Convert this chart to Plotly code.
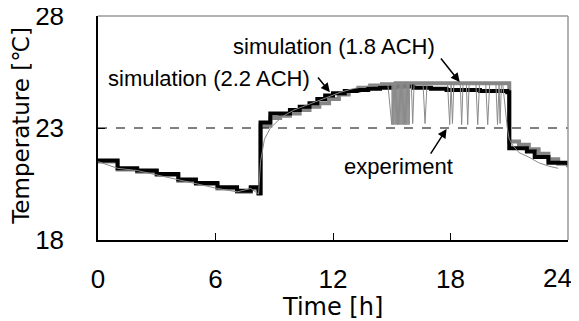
import plotly.graph_objects as go

# simulation (2.2 ACH) - black
sim22_t = [0, 1.0, 2.0, 3.0, 4.1, 5.0, 6.1, 7.1, 7.8, 8.2, 8.3, 8.8, 9.3, 9.8, 10.3, 10.8, 11.2, 11.6, 12.0, 12.6, 13.2, 13.8, 14.4, 15.2, 16.1, 17.0, 17.8, 18.6, 19.5, 20.2, 20.9, 21.0, 21.9, 22.3, 23.0, 24.0]
sim22_v = [21.55, 21.2, 21.1, 20.95, 20.7, 20.55, 20.35, 20.2, 20.35, 20.1, 23.25, 23.65, 23.65, 23.8, 23.95, 24.1, 24.3, 24.45, 24.55, 24.65, 24.7, 24.75, 24.8, 24.85, 24.8, 24.75, 24.7, 24.7, 24.65, 24.65, 24.6, 22.1, 21.95, 21.7, 21.45, 21.35]

# simulation (1.8 ACH) - gray
sim18_t = [0, 1.0, 2.0, 3.0, 4.1, 5.0, 6.1, 7.1, 7.8, 8.2, 8.3, 8.8, 9.3, 9.8, 10.3, 10.8, 11.3, 11.8, 12.3, 12.8, 13.3, 13.9, 14.5, 15.2, 16.0, 17.0, 18.0, 19.0, 20.0, 20.9, 21.0, 21.5, 22.0, 22.5, 23.0, 23.5, 24.0]
sim18_v = [21.5, 21.15, 21.05, 20.9, 20.65, 20.5, 20.3, 20.15, 20.3, 20.05, 23.1, 23.45, 23.55, 23.65, 23.8, 23.95, 24.1, 24.3, 24.5, 24.65, 24.8, 24.9, 24.95, 25.0, 25.0, 25.0, 25.0, 25.0, 25.0, 25.0, 22.4, 22.25, 22.05, 21.85, 21.6, 21.4, 21.25]

# experiment - thin gray
exp_t = [0, 1.0, 2.0, 3.0, 4.1, 5.0, 6.1, 7.1, 7.8, 8.2, 8.3, 8.5, 8.8, 9.4, 10.0, 10.6, 11.2, 11.8, 12.4, 13.0, 13.6, 14.2, 14.8,
         15.0, 15.02, 15.05, 15.08, 15.11, 15.14, 15.17, 15.2, 15.23, 15.26, 15.29, 15.32, 15.35, 15.38, 15.41, 15.44, 15.47, 15.5, 15.53, 15.56, 15.59, 15.62, 15.65, 15.68, 15.71, 15.74, 15.77, 15.8, 15.83, 15.86, 15.89, 15.92,
         16.0, 16.07, 16.14, 16.6, 16.7, 16.8, 17.85, 17.96, 18.03, 18.1, 18.17, 18.5, 18.57, 18.64, 18.81, 18.88, 18.95, 19.3, 19.39, 19.48, 19.8, 19.9, 20.0, 20.32, 20.4, 20.48, 20.53, 20.6, 20.67, 20.9, 21.0, 21.2, 21.5, 22.0, 22.5, 23.0, 23.5, 24.0]
exp_v = [21.5, 21.2, 21.1, 20.9, 20.7, 20.5, 20.3, 20.15, 20.3, 20.05, 21.5, 22.5, 23.0, 23.5, 23.8, 24.0, 24.2, 24.4, 24.6, 24.75, 24.85, 24.9, 24.95,
         23.15, 25.0, 23.15, 25.0, 23.15, 25.0, 23.15, 25.0, 23.15, 25.0, 23.15, 25.0, 23.15, 25.0, 23.15, 25.0, 23.15, 25.0, 23.15, 25.0, 23.15, 25.0, 23.15, 25.0, 23.15, 25.0, 23.15, 25.0, 23.15, 25.0, 23.15, 25.0,
         24.95, 23.2, 24.95, 24.95, 23.2, 24.95, 24.95, 23.15, 24.95, 23.2, 24.95, 24.95, 23.15, 24.95, 24.95, 23.15, 24.95, 24.95, 23.15, 24.95, 24.95, 23.15, 24.95, 24.95, 23.15, 24.95, 23.2, 24.95, 24.95, 23.0, 22.5, 22.2, 21.9, 21.7, 21.45, 21.3, 21.2]

x_ticks = [0, 6, 12, 18, 24]
x_ticktext = ["0", "6", "12", "18", ""]   # last label placed separately so it stays inside the page
last_tick_label = "24"
y_ticks = [18, 23, 28]

FONT = "Liberation Sans"
TFONT = "DejaVu Sans"

fig = go.Figure()
fig.add_trace(go.Scatter(x=sim18_t, y=sim18_v, mode="lines", line=dict(color="#858585", width=4, shape="hv"), showlegend=False))
fig.add_trace(go.Scatter(x=sim22_t, y=sim22_v, mode="lines", line=dict(color="#000000", width=4, shape="hv"), showlegend=False))
fig.add_trace(go.Scatter(x=exp_t, y=exp_v, mode="lines", line=dict(color="#8a8a8a", width=1), showlegend=False))

fig.add_shape(type="line", xref="paper", yref="y", x0=0, x1=1, y0=23, y1=23, line=dict(color="black", width=1, dash="dash"))
fig.add_shape(type="line", xref="paper", yref="paper", x0=0, x1=1, y0=1, y1=1, line=dict(color="#999999", width=1.5))
fig.add_shape(type="line", xref="paper", yref="paper", x0=1, x1=1, y0=0, y1=1, line=dict(color="#999999", width=1.5))

def arrow(tx, ty, hx, hy):
    fig.add_annotation(x=hx, y=hy, ax=tx, ay=ty, xref="x", yref="y", axref="x", ayref="y", text="",
                       showarrow=True, arrowhead=2, arrowsize=1.2, arrowwidth=1.5, arrowcolor="black")

fig.add_annotation(x=12.04, y=26.62, text="simulation (1.8 ACH)", showarrow=False, font=dict(family=FONT, size=22, color="black"))
fig.add_annotation(x=5.66, y=25.23, text="simulation (2.2 ACH)", showarrow=False, font=dict(family=FONT, size=22, color="black"))
fig.add_annotation(x=15.36, y=21.26, text="experiment", showarrow=False, font=dict(family=FONT, size=22, color="black"))
arrow(17.45, 26.17, 18.47, 25.05)
arrow(11.17, 25.32, 11.84, 24.6)
arrow(16.94, 21.79, 17.8, 22.96)

# axis titles
fig.add_annotation(xref="paper", yref="paper", x=-0.1638, y=0.51, text="Temperature [℃]", textangle=-90,
                   showarrow=False, xanchor="center", yanchor="middle", font=dict(family=TFONT, size=23, color="black"))
fig.add_annotation(xref="paper", yref="paper", x=0.498, y=-0.299, text="Time [h]",
                   showarrow=False, xanchor="center", yanchor="middle", font=dict(family=TFONT, size=24, color="black"))
# last x tick label
fig.add_annotation(xref="x", yref="paper", x=24, y=-0.17, text=last_tick_label, showarrow=False,
                   xanchor="right", yanchor="middle", xshift=6, font=dict(family=FONT, size=26, color="black"))

fig.update_layout(
    width=571, height=313,
    margin=dict(l=90, r=11, t=8, b=81),
    paper_bgcolor="white", plot_bgcolor="white",
    font=dict(family=FONT, size=22, color="black"),
    xaxis=dict(range=[0, 24], tickvals=x_ticks, ticktext=x_ticktext, ticks="inside", ticklen=7, tickcolor="black",
               showline=True, linecolor="black", linewidth=1.5, showgrid=False, zeroline=False,
               ticklabelstandoff=15, automargin=False, tickfont=dict(size=26)),
    yaxis=dict(range=[18, 28], tickvals=y_ticks, ticks="inside", ticklen=7, tickcolor="black",
               showline=True, linecolor="black", linewidth=1.5, showgrid=False, zeroline=False,
               ticklabelstandoff=27, ticklabeloverflow="allow", automargin=False, tickfont=dict(size=26)),
)

fig.write_html("out.html")
